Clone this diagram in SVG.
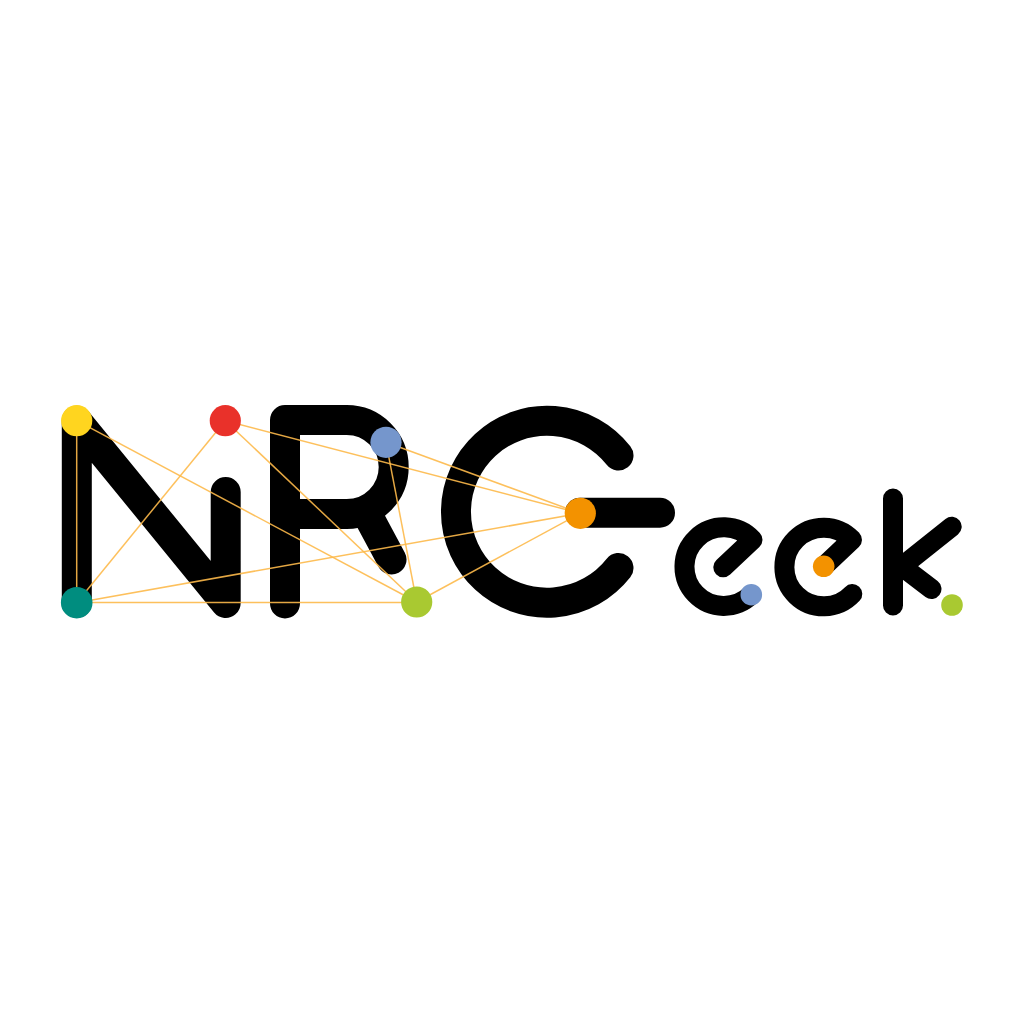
<svg xmlns="http://www.w3.org/2000/svg" width="1024" height="1024" viewBox="0 0 1024 1024">
<style>
.big{fill:none;stroke:#000;stroke-width:30;stroke-linecap:round;stroke-linejoin:round}
.small{fill:none;stroke:#000;stroke-width:20;stroke-linecap:round;stroke-linejoin:round}
.link{stroke:#fdb94a;stroke-width:1.5;stroke-opacity:.9;fill:none}
</style>
<rect width="1024" height="1024" fill="#fff"/>
<g id="letters">
<path id="letter-N" class="big" d="M76.8 603V420.7L225.7 603V492"/>
<path id="letter-R" class="big" d="M285 603.5V420H346.7A47 47 0 0 1 346.7 514H285M366 512L391.5 559.5"/>
<path id="letter-C" class="big" d="M618.5 455.5A91 91 0 1 0 618.5 568"/>
<path id="letter-G-bar" class="big" d="M580 512.7H660"/>
<path id="letter-e1" class="small" d="M723.3 567.3L752.5 539.8A39.3 39.3 0 1 0 751.3 594.7"/>
<path id="letter-e2" class="small" d="M823.7 566.5L852 539.8A39.3 39.3 0 1 0 852.3 594"/>
<path id="letter-k" class="small" d="M893 498.5V605.5M951.7 526.7L893 573.5M903 567.3L931.5 589"/>
</g>
<g id="connectors">
<line class="link" x1="76.7" y1="420.7" x2="76.7" y2="602.7"/>
<line class="link" x1="76.7" y1="420.7" x2="416.7" y2="602"/>
<line class="link" x1="225.3" y1="420.7" x2="76.7" y2="602.7"/>
<line class="link" x1="225.3" y1="420.7" x2="416.7" y2="602"/>
<line class="link" x1="225.3" y1="420.7" x2="580.3" y2="513.3"/>
<line class="link" x1="386" y1="442.3" x2="580.3" y2="513.3"/>
<line class="link" x1="386" y1="442.3" x2="416.7" y2="602"/>
<line class="link" x1="76.7" y1="602.7" x2="580.3" y2="513.3"/>
<line class="link" x1="76.7" y1="602.5" x2="416.7" y2="602.5"/>
<line class="link" x1="416.7" y1="602" x2="580.3" y2="513.3"/>
</g>
<g id="node-yellow"><circle cx="76.7" cy="420.7" r="15.6" fill="#ffd51f"/></g>
<g id="node-red"><circle cx="225.3" cy="420.7" r="15.6" fill="#e9312a"/></g>
<g id="node-blue"><circle cx="386" cy="442.3" r="15.6" fill="#7596cc"/></g>
<g id="node-teal"><circle cx="76.7" cy="602.7" r="15.8" fill="#008d7f"/></g>
<g id="node-green"><circle cx="416.7" cy="602" r="15.6" fill="#a9c931"/></g>
<g id="node-orange"><circle cx="580.3" cy="513.3" r="15.6" fill="#f39200"/></g>
<g id="dot-blue"><circle cx="751.3" cy="594.7" r="10.8" fill="#7596cc"/></g>
<g id="dot-orange"><circle cx="823.7" cy="566.3" r="10.8" fill="#f39200"/></g>
<g id="dot-green"><circle cx="952" cy="605" r="10.8" fill="#a9c931"/></g>
</svg>
